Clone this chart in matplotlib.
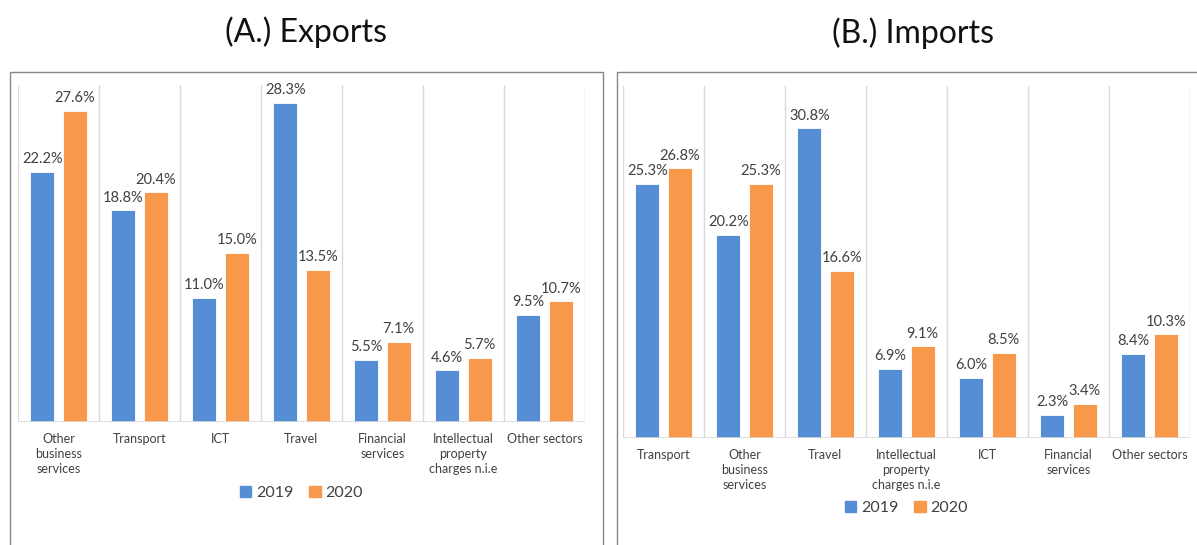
import matplotlib.pyplot as plt
import numpy as np
from matplotlib.patches import Rectangle, Patch

plt.rcParams['font.family'] = ['Lato', 'DejaVu Sans']

# Exports by sector, share of total (%)
exp_sectors = ['Other\nbusiness\nservices', 'Transport', 'ICT', 'Travel',
               'Financial\nservices', 'Intellectual\nproperty\ncharges n.i.e',
               'Other sectors']
exp_2019 = [22.2, 18.8, 11.0, 28.3, 5.5, 4.6, 9.5]
exp_2020 = [27.6, 20.4, 15.0, 13.5, 7.1, 5.7, 10.7]

# Imports by sector, share of total (%)
imp_sectors = ['Transport', 'Other\nbusiness\nservices', 'Travel',
               'Intellectual\nproperty\ncharges n.i.e', 'ICT',
               'Financial\nservices', 'Other sectors']
imp_2019 = [25.3, 20.2, 30.8, 6.9, 6.0, 2.3, 8.4]
imp_2020 = [26.8, 25.3, 16.6, 9.1, 8.5, 3.4, 10.3]

years = ['2019', '2020']
blue = '#558ed5'
orange = '#f7984a'
grid = '#d9d9d9'
txt = '#404040'

W, H = 1197, 545
fig = plt.figure(figsize=(W / 100, H / 100), dpi=100)


def px(x0, y_top, x1, y_base):
    return [x0 / W, (H - y_base) / H, (x1 - x0) / W, (y_base - y_top) / H]


def panel(rect, title, title_xy, cats, v19, v20, ymax, leg_y):
    ax = fig.add_axes(rect)
    x = np.arange(len(cats))
    w = 0.3
    b1 = ax.bar(x - 0.2, v19, w, color=blue, edgecolor='white', linewidth=0.6, zorder=3)
    b2 = ax.bar(x + 0.2, v20, w, color=orange, edgecolor='white', linewidth=0.6, zorder=3)
    for bars, vals in ((b1, v19), (b2, v20)):
        for b, v in zip(bars, vals):
            ax.annotate(f'{v:.1f}%', (b.get_x() + b.get_width() / 2, v),
                        xytext=(0, 4), textcoords='offset points',
                        ha='center', va='bottom', fontsize=10.5, color=txt)
    ax.set_xlim(-0.5, len(cats) - 0.5)
    ax.set_ylim(0, ymax)
    for s in np.arange(-0.5, len(cats), 1.0):
        ax.axvline(s, color=grid, lw=1, zorder=1)
    ax.axhline(0, color=grid, lw=1.2, zorder=4)
    for sp in ax.spines.values():
        sp.set_visible(False)
    ax.set_yticks([])
    ax.set_xticks(x)
    ax.set_xticklabels(cats, fontsize=9, color=txt, linespacing=1.3)
    ax.tick_params(axis='x', length=0, pad=8)
    handles = [Patch(color=blue, label=years[0]), Patch(color=orange, label=years[1])]
    fig.legend(handles=handles, loc='center', bbox_to_anchor=(rect[0] + rect[2] / 2, leg_y),
               ncol=2, frameon=False, fontsize=11.5, handlelength=0.7, handleheight=0.7,
               handletextpad=0.3, columnspacing=1.0, labelcolor=txt)
    fig.text(title_xy[0] / W, 1 - title_xy[1] / H, title, ha='center', va='center',
             fontsize=23, color='#111111')


# framed boxes around each chart
fig.patches.append(Rectangle((10 / W, -0.05), 593 / W, 0.05 + (H - 72) / H,
                             transform=fig.transFigure, fill=False, ec='#888888', lw=1))
fig.patches.append(Rectangle((617 / W, -0.05), 620 / W, 0.05 + (H - 72) / H,
                             transform=fig.transFigure, fill=False, ec='#888888', lw=1))

panel(px(18, 85, 585, 422), '(A.) Exports', (306, 32), exp_sectors, exp_2019, exp_2020,
      29.9, 1 - 493 / H)
panel(px(623, 86, 1190, 438), '(B.) Imports', (913, 33), imp_sectors, imp_2019, imp_2020,
      35.0, 1 - 508 / H)

fig.savefig('out.png', dpi=100)
